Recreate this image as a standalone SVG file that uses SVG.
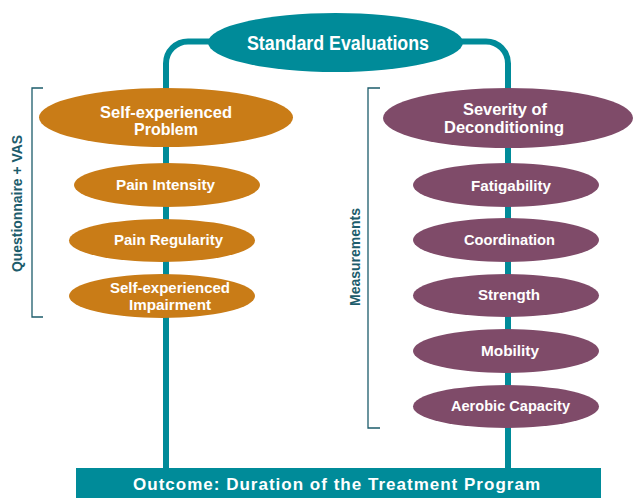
<svg xmlns="http://www.w3.org/2000/svg" width="634" height="498" viewBox="0 0 634 498">
<style>
.t{font-family:"Liberation Sans",Arial,sans-serif;font-weight:bold;fill:#ffffff;text-anchor:middle}
.side{font-family:"Liberation Sans",Arial,sans-serif;font-weight:bold;fill:#1d5c6b;text-anchor:middle;font-size:14px}
.line{fill:none;stroke:#008b99;stroke-width:6}
.br{fill:none;stroke:#1d5c6b;stroke-width:1.3}
.teal{fill:#008b99}
.org{fill:#c97c17}
.pur{fill:#7f4b69}
</style>
<rect width="634" height="498" fill="#ffffff"/>
<g id="connectors">
<path class="line" d="M 212 41.5 H 188 A 22 22 0 0 0 166 63.5 V 470"/>
<path class="line" d="M 460 41.5 H 486 A 22 22 0 0 1 508 63.5 V 470"/>
</g>
<g id="brackets">
<path class="br" d="M 43 88 H 32 V 317 H 43"/>
<path class="br" d="M 380 88 H 368 V 428 H 380"/>
<text class="side" transform="translate(22,203.5) rotate(-90)" textLength="137" lengthAdjust="spacingAndGlyphs">Questionnaire + VAS</text>
<text class="side" transform="translate(360,257) rotate(-90)" textLength="98" lengthAdjust="spacingAndGlyphs">Measurements</text>
</g>
<g id="standard-evaluations">
<ellipse class="teal" cx="335.5" cy="42.5" rx="127.5" ry="29.5"/>
<text class="t" x="338" y="50" font-size="20" textLength="182" lengthAdjust="spacingAndGlyphs">Standard Evaluations</text>
</g>
<g id="self-experienced-problem">
<ellipse class="org" cx="166" cy="117.5" rx="127" ry="29.5"/>
<text class="t" x="166" y="117.5" font-size="16.5" textLength="132" lengthAdjust="spacingAndGlyphs">Self-experienced</text>
<text class="t" x="166" y="135" font-size="16.5" textLength="64" lengthAdjust="spacingAndGlyphs">Problem</text>
</g>
<g id="pain-intensity">
<ellipse class="org" cx="167" cy="185" rx="93" ry="22"/>
<text class="t" x="165.5" y="190" font-size="15" textLength="99" lengthAdjust="spacingAndGlyphs">Pain Intensity</text>
</g>
<g id="pain-regularity">
<ellipse class="org" cx="162" cy="240.5" rx="93" ry="21.5"/>
<text class="t" x="168.5" y="245" font-size="15" textLength="109" lengthAdjust="spacingAndGlyphs">Pain Regularity</text>
</g>
<g id="self-experienced-impairment">
<ellipse class="org" cx="162" cy="296" rx="93" ry="22"/>
<text class="t" x="170" y="293" font-size="15" textLength="120" lengthAdjust="spacingAndGlyphs">Self-experienced</text>
<text class="t" x="170" y="310" font-size="15" textLength="82" lengthAdjust="spacingAndGlyphs">Impairment</text>
</g>
<g id="severity-of-deconditioning">
<ellipse class="pur" cx="508" cy="118" rx="125" ry="30"/>
<text class="t" x="505" y="114.5" font-size="16.5" textLength="84" lengthAdjust="spacingAndGlyphs">Severity of</text>
<text class="t" x="504" y="133" font-size="16.5" textLength="120" lengthAdjust="spacingAndGlyphs">Deconditioning</text>
</g>
<g id="fatigability">
<ellipse class="pur" cx="506" cy="185" rx="93" ry="22"/>
<text class="t" x="511" y="191" font-size="15" textLength="80" lengthAdjust="spacingAndGlyphs">Fatigability</text>
</g>
<g id="coordination">
<ellipse class="pur" cx="506" cy="240" rx="93" ry="22"/>
<text class="t" x="509.5" y="245" font-size="15" textLength="91" lengthAdjust="spacingAndGlyphs">Coordination</text>
</g>
<g id="strength">
<ellipse class="pur" cx="506" cy="295.5" rx="93" ry="21.5"/>
<text class="t" x="509" y="300" font-size="15" textLength="62" lengthAdjust="spacingAndGlyphs">Strength</text>
</g>
<g id="mobility">
<ellipse class="pur" cx="506" cy="351" rx="93" ry="22"/>
<text class="t" x="510" y="356" font-size="15" textLength="58" lengthAdjust="spacingAndGlyphs">Mobility</text>
</g>
<g id="aerobic-capacity">
<ellipse class="pur" cx="506" cy="406.5" rx="93" ry="21.5"/>
<text class="t" x="510.5" y="411" font-size="15" textLength="119" lengthAdjust="spacingAndGlyphs">Aerobic Capacity</text>
</g>
<g id="outcome">
<rect class="teal" x="76" y="468" width="525" height="30"/>
<text class="t" x="336.5" y="490" font-size="17" textLength="407" lengthAdjust="spacing">Outcome: Duration of the Treatment Program</text>
</g>
</svg>
